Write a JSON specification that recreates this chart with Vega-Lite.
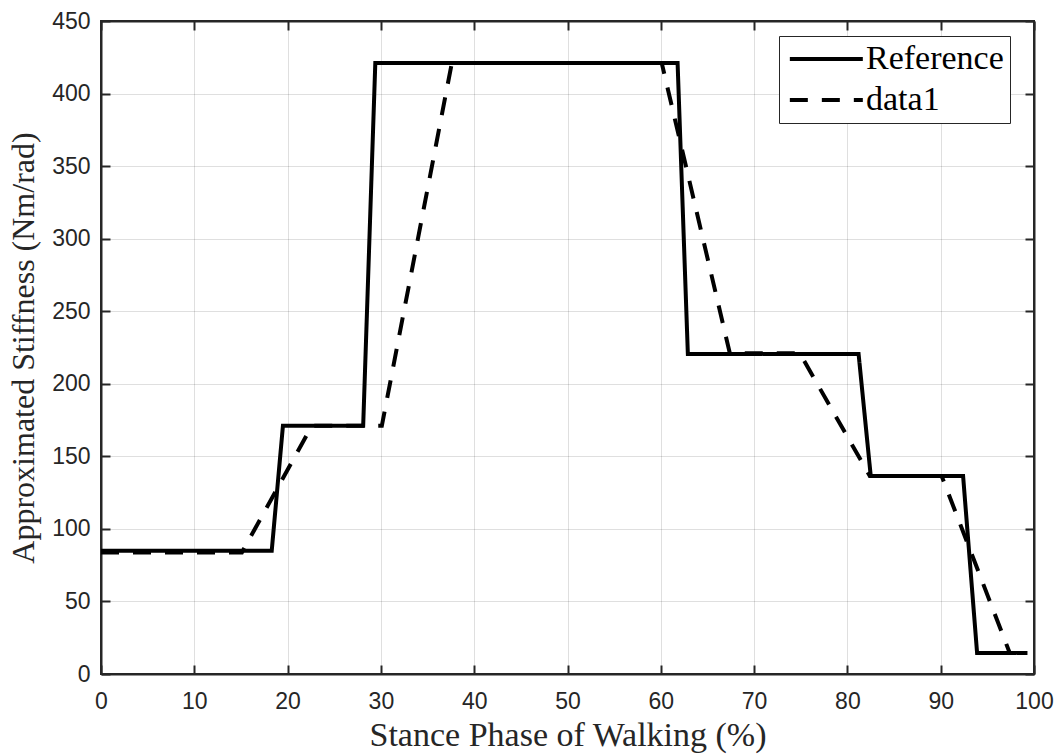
{
  "$schema": "https://vega.github.io/schema/vega-lite/v6.json",
  "width": 933,
  "height": 653,
  "autosize": {"type": "none"},
  "padding": {"left": 101, "top": 21, "right": 25, "bottom": 81},
  "background": "white",
  "config": {
    "view": {"stroke": "#262626", "strokeWidth": 2},
    "axis": {
      "domainColor": "#262626",
      "domainWidth": 2,
      "tickColor": "#262626",
      "tickWidth": 2,
      "tickSize": -9,
      "gridColor": "#262626",
      "gridOpacity": 0.15,
      "gridWidth": 1,
      "labelFont": "Liberation Sans",
      "labelFontSize": 23,
      "labelColor": "#262626",
      "labelFlush": false,
      "titleFont": "Liberation Serif",
      "titleFontWeight": "normal",
      "titleColor": "#262626"
    },
    "legend": {
      "labelFont": "Liberation Serif",
      "labelFontSize": 34,
      "labelColor": "black"
    }
  },
  "data": {
    "values": [
      {"series": "Reference", "x": 0, "y": 85},
      {"series": "Reference", "x": 18.3, "y": 85},
      {"series": "Reference", "x": 19.5, "y": 171},
      {"series": "Reference", "x": 28.1, "y": 171},
      {"series": "Reference", "x": 29.4, "y": 421},
      {"series": "Reference", "x": 61.8, "y": 421},
      {"series": "Reference", "x": 62.9, "y": 220.5},
      {"series": "Reference", "x": 81.2, "y": 220.5},
      {"series": "Reference", "x": 82.5, "y": 136.5},
      {"series": "Reference", "x": 92.4, "y": 136.5},
      {"series": "Reference", "x": 93.9, "y": 14.5},
      {"series": "Reference", "x": 99.3, "y": 14.5},
      {"series": "data1", "x": 0, "y": 83.7},
      {"series": "data1", "x": 15.1, "y": 83.7},
      {"series": "data1", "x": 22.6, "y": 171},
      {"series": "data1", "x": 30.1, "y": 171},
      {"series": "data1", "x": 37.6, "y": 421},
      {"series": "data1", "x": 60.1, "y": 421},
      {"series": "data1", "x": 67.4, "y": 221},
      {"series": "data1", "x": 74.9, "y": 221},
      {"series": "data1", "x": 82.4, "y": 136.5},
      {"series": "data1", "x": 90.1, "y": 136.5},
      {"series": "data1", "x": 97.4, "y": 14.5}
    ]
  },
  "layer": [
    {
      "mark": {"type": "line", "color": "black", "strokeWidth": 4, "strokeJoin": "miter", "strokeCap": "butt"},
      "encoding": {
        "x": {
          "field": "x", "type": "quantitative",
          "scale": {"domain": [0, 100], "nice": false, "zero": false},
          "axis": {
            "orient": "bottom",
            "values": [0, 10, 20, 30, 40, 50, 60, 70, 80, 90, 100],
            "title": "Stance Phase of Walking (%)",
            "titleFontSize": 34,
            "labelPadding": 25,
            "titlePadding": 5
          }
        },
        "y": {
          "field": "y", "type": "quantitative",
          "scale": {"domain": [0, 450], "nice": false, "zero": false},
          "axis": {
            "orient": "left",
            "values": [0, 50, 100, 150, 200, 250, 300, 350, 400, 450],
            "title": "Approximated Stiffness (Nm/rad)",
            "titleFontSize": 32,
            "labelPadding": 20,
            "titlePadding": 11
          }
        },
        "strokeDash": {
          "field": "series", "type": "nominal",
          "scale": {"domain": ["Reference", "data1"], "range": [[1, 0], [18, 14]]},
          "legend": {
            "title": null,
            "orient": "none",
            "legendX": 678,
            "legendY": 15,
            "symbolType": "M-1,0H5",
            "symbolSize": 592,
            "symbolStrokeWidth": 4,
            "symbolStrokeColor": "black",
            "labelOffset": 47,
            "padding": 6,
            "rowPadding": 7,
            "strokeColor": "#262626",
            "fillColor": "white"
          }
        }
      }
    },
    {
      "mark": {"type": "line", "opacity": 0},
      "encoding": {
        "x": {
          "field": "x", "type": "quantitative",
          "axis": {
            "orient": "top",
            "values": [0, 10, 20, 30, 40, 50, 60, 70, 80, 90, 100],
            "labels": false, "title": null, "grid": false
          }
        },
        "y": {
          "field": "y", "type": "quantitative",
          "axis": {
            "orient": "right",
            "values": [0, 50, 100, 150, 200, 250, 300, 350, 400, 450],
            "labels": false, "title": null, "grid": false
          }
        },
        "detail": {"field": "series"}
      }
    }
  ]
}
